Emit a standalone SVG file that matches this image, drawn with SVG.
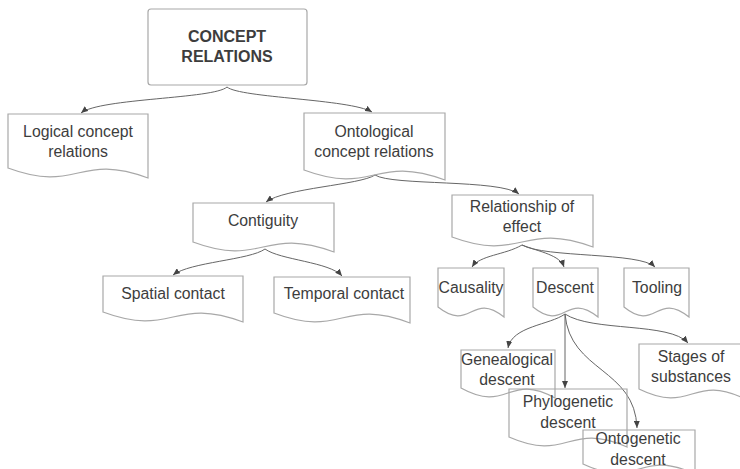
<svg xmlns="http://www.w3.org/2000/svg" width="740" height="469" viewBox="0 0 740 469">
<style>
.box{fill:none;stroke:#a8a8a8;stroke-width:1.2}
.t{font-family:"Liberation Sans",Arial,sans-serif;font-size:15.8px;fill:#3d3d3d;text-anchor:middle}
.b{font-weight:bold;font-size:16px}
.c{fill:none;stroke:#666;stroke-width:1}
</style>
<defs>
<marker id="ah" markerUnits="userSpaceOnUse" markerWidth="7" markerHeight="6" refX="7" refY="3" orient="auto">
<path d="M0,0 L7,3 L0,6 z" fill="#444"/>
</marker>
</defs>
<rect width="740" height="469" fill="#fff"/>
<g id="connectors">
<path class="c" marker-end="url(#ah)" d="M227,87 C214,99 100,98 81,113"/>
<path class="c" marker-end="url(#ah)" d="M227,87 C240,98 350,99 372,112"/>
<path class="c" marker-end="url(#ah)" d="M375,175 C360,185 285,188 266,202"/>
<path class="c" marker-end="url(#ah)" d="M375,175 C392,186 500,179 519,194"/>
<path class="c" marker-end="url(#ah)" d="M265,249 C250,260 190,262 173,275"/>
<path class="c" marker-end="url(#ah)" d="M265,249 C280,260 330,262 342,276"/>
<path class="c" marker-end="url(#ah)" d="M522,245 C505,255 480,255 472,267"/>
<path class="c" marker-end="url(#ah)" d="M522,245 C540,252 560,255 564,267"/>
<path class="c" marker-end="url(#ah)" d="M522,245 C545,258 640,252 655,267"/>
<path class="c" marker-end="url(#ah)" d="M565,314 C550,325 512,326 508,348"/>
<path class="c" marker-end="url(#ah)" d="M565,314 L565,388"/>
<path class="c" marker-end="url(#ah)" d="M565,314 C570,372 635,368 637,428"/>
<path class="c" marker-end="url(#ah)" d="M565,314 C592,332 670,322 688,343"/>
</g>
<g id="root">
<rect class="box" x="148" y="9" width="159" height="76" rx="3"/>
<text class="t b" x="227" y="42">CONCEPT</text>
<text class="t b" x="227" y="62">RELATIONS</text>
</g>
<g id="logical">
<path class="box" d="M8,114 H148 V178 C78,152 78,194 8,168 Z"/>
<text class="t" x="78" y="137">Logical concept</text>
<text class="t" x="78" y="157">relations</text>
</g>
<g id="ontological">
<path class="box" d="M304,113 H445 V180 C374,154 374,196 304,170 Z"/>
<text class="t" x="374" y="137">Ontological</text>
<text class="t" x="374" y="157">concept relations</text>
</g>
<g id="contiguity">
<path class="box" d="M193,203 H334 V252 C263,226 263,268 193,242 Z"/>
<text class="t" x="263" y="226">Contiguity</text>
</g>
<g id="relationship">
<path class="box" d="M452,195 H593 V247 C522,221 522,263 452,237 Z"/>
<text class="t" x="522" y="212">Relationship of</text>
<text class="t" x="522" y="232">effect</text>
</g>
<g id="spatial">
<path class="box" d="M103,276 H243 V322 C173,296 173,338 103,312 Z"/>
<text class="t" x="173" y="299">Spatial contact</text>
</g>
<g id="temporal">
<path class="box" d="M274,277 H410 V323 C342,297 342,339 274,313 Z"/>
<text class="t" x="344" y="299">Temporal contact</text>
</g>
<g id="causality">
<path class="box" d="M438,268 H504 V317 C471,291 471,333 438,307 Z"/>
<text class="t" x="471" y="293">Causality</text>
</g>
<g id="descent">
<path class="box" d="M533,268 H598 V317 C565,291 565,333 533,307 Z"/>
<text class="t" x="565" y="293">Descent</text>
</g>
<g id="tooling">
<path class="box" d="M624,268 H689 V317 C656,291 656,333 624,307 Z"/>
<text class="t" x="657" y="293">Tooling</text>
</g>
<g id="genealogical">
<path class="box" d="M461,350 H555 V398 C508,372 508,414 461,388 Z"/>
<text class="t" x="507" y="365">Genealogical</text>
<text class="t" x="507" y="385">descent</text>
</g>
<g id="stages">
<path class="box" d="M639,344 H745 V399 C692,373 692,415 639,389 Z"/>
<text class="t" x="691" y="362">Stages of</text>
<text class="t" x="691" y="382">substances</text>
</g>
<g id="phylogenetic">
<path class="box" d="M509,389 H627 V447 C568,421 568,463 509,437 Z"/>
<text class="t" x="568" y="407">Phylogenetic</text>
<text class="t" x="568" y="428">descent</text>
</g>
<g id="ontogenetic">
<path class="box" d="M583,430 H695 V474 C639,448 639,490 583,464 Z"/>
<text class="t" x="638" y="444">Ontogenetic</text>
<text class="t" x="638" y="465">descent</text>
</g>
</svg>
